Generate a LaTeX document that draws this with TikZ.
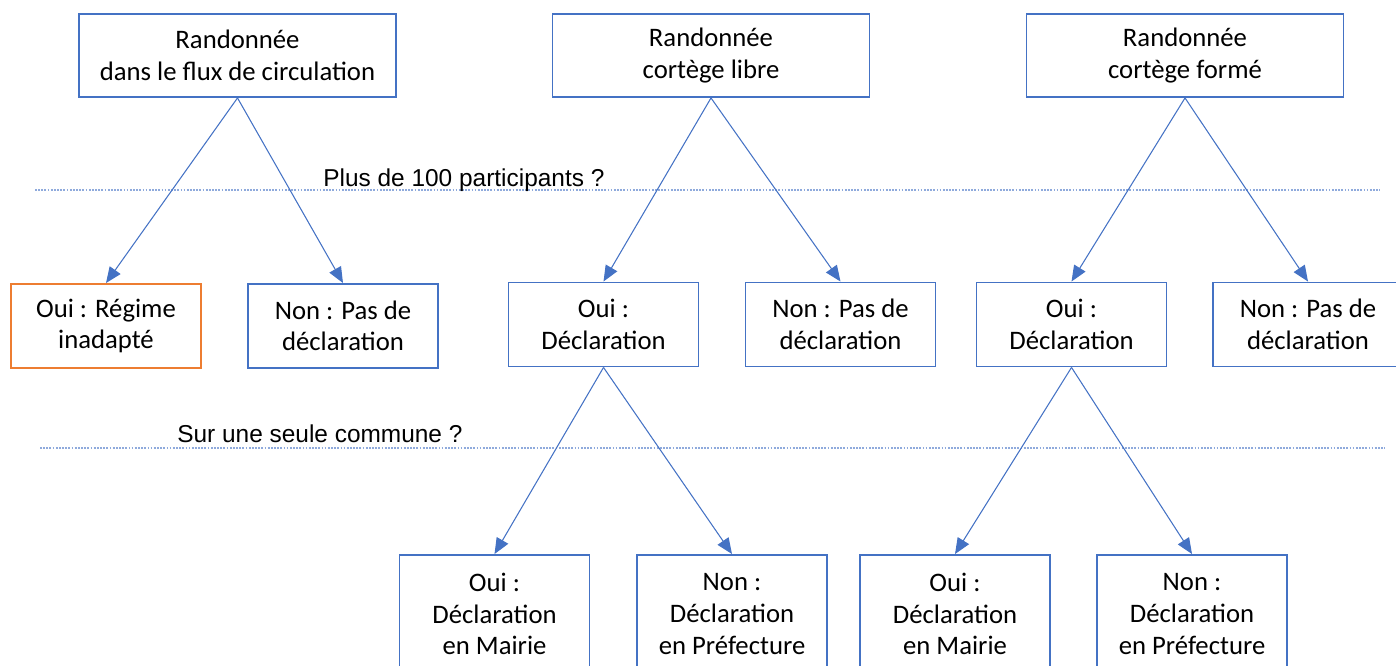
\documentclass[tikz,border=0pt]{standalone}
\usepackage{fontspec}
\setmainfont{Carlito}
\newfontfamily\qfont{Liberation Sans}
\usepackage{tikz}
\usetikzlibrary{arrows.meta}

\definecolor{offblue}{RGB}{68,114,196}
\definecolor{offorange}{RGB}{237,125,49}
\definecolor{lightline}{RGB}{143,170,220}

\tikzset{
  box/.style={draw=offblue, line width=1.1pt, fill=white, align=center,
    minimum width=3.8cm, minimum height=1.68cm, inner sep=2pt,
    font=\fontsize{15.2}{18}\selectfont},
  topbox/.style={box, minimum width=6.34cm, minimum height=1.66cm},
  lowbox/.style={box, minimum height=2.36cm},
  warnbox/.style={box, draw=offorange},
  link/.style={draw=offblue, line width=0.6pt, -{Triangle[length=9pt,width=7.5pt]}},
  sepline/.style={draw=lightline, line width=0.6pt, dash pattern=on 1pt off 0.8pt},
  question/.style={font=\qfont\fontsize{13.9}{16}\selectfont, anchor=base west, inner sep=0pt}
}

\begin{document}
\begin{tikzpicture}
                \clip (0,0) rectangle (27.92,-13.32);
                % Separator lines
                \draw[sepline] (0.7,-3.8) -- (27.6,-3.8);
                \draw[sepline] (0.8,-8.96) -- (27.7,-8.96);
                \node[question] (q1) at (6.46,-3.74) {Plus de 100 participants ?};
                \node[question] (q2) at (3.54,-8.86) {Sur une seule commune ?};

                % Top boxes
                \node[topbox] (flux) at (4.75,-1.11) {Randonnée\\dans le flux de circulation};
                \node[topbox] (libre) at (14.22,-1.11) {Randonnée\\cortège libre};
                \node[topbox] (forme) at (23.70,-1.11) {Randonnée\\cortège formé};

                % Middle row
                \node[warnbox] (fluxoui) at (2.12,-6.52) {Oui : Régime\\inadapté};
                \node[box] (fluxnon) at (6.86,-6.52) {Non : Pas de\\déclaration};
                \node[box] (libreoui) at (12.07,-6.49) {Oui :\\Déclaration};
                \node[box] (librenon) at (16.81,-6.49) {Non : Pas de\\déclaration};
                \node[box] (formeoui) at (21.43,-6.49) {Oui :\\Déclaration};
                \node[box] (formenon) at (26.16,-6.49) {Non : Pas de\\déclaration};

                % Bottom row
                \node[lowbox] (libremairie) at (9.89,-12.28) {Oui :\\Déclaration\\en Mairie};
                \node[lowbox] (librepref) at (14.64,-12.28) {Non :\\Déclaration\\en Préfecture};
                \node[lowbox] (formemairie) at (19.1,-12.28) {Oui :\\Déclaration\\en Mairie};
                \node[lowbox] (formepref) at (23.84,-12.28) {Non :\\Déclaration\\en Préfecture};

                % Arrows
                \draw[link] (flux.south) -- (fluxoui.north);
                \draw[link] (flux.south) -- (fluxnon.north);
                \draw[link] (libre.south) -- (libreoui.north);
                \draw[link] (libre.south) -- (librenon.north);
                \draw[link] (forme.south) -- (formeoui.north);
                \draw[link] (forme.south) -- (formenon.north);
                \draw[link] (libreoui.south) -- (libremairie.north);
                \draw[link] (libreoui.south) -- (librepref.north);
                \draw[link] (formeoui.south) -- (formemairie.north);
                \draw[link] (formeoui.south) -- (formepref.north);
\end{tikzpicture}
\end{document}
